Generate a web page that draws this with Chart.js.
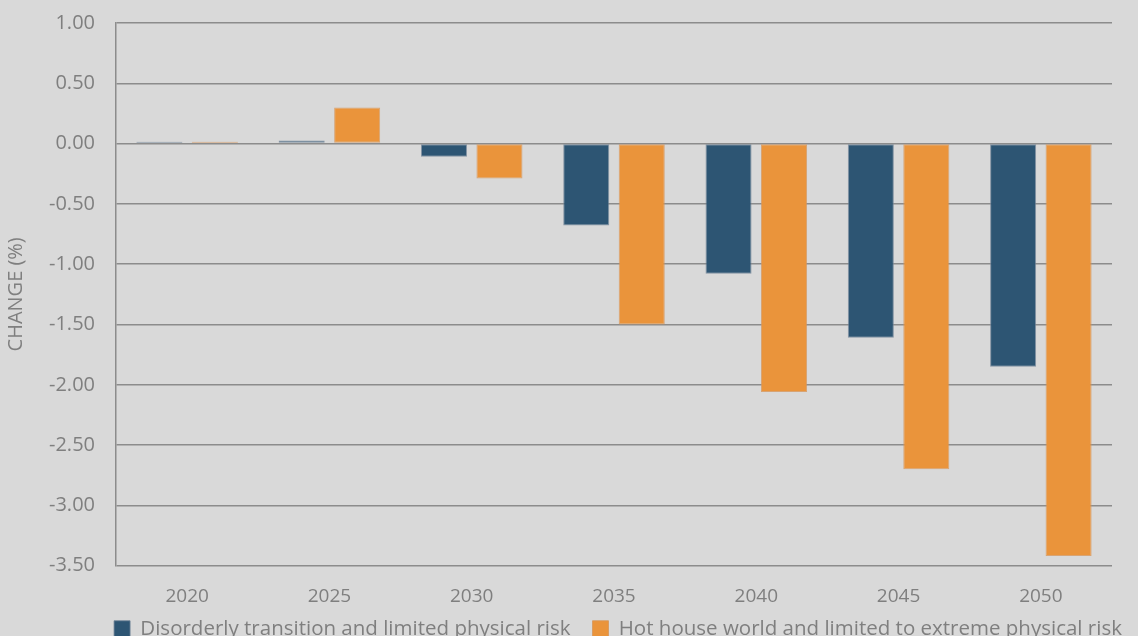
<!DOCTYPE html>
<html><head><meta charset="utf-8">
<script src="https://cdn.jsdelivr.net/npm/chart.js@4/dist/chart.umd.min.js"></script>
<style>html,body{margin:0;padding:0;background:#D9D9D9;overflow:hidden;width:1138px;height:636px;}canvas{display:block;margin-top:-10px;}</style>
</head><body>
<canvas id="c" width="1138" height="681"></canvas>
<script>
const categories = ["2020","2025","2030","2035","2040","2045","2050"];
const disorderly = [0.015, 0.025, -0.11, -0.68, -1.08, -1.61, -1.85];
const hotHouse = [0.015, 0.30, -0.29, -1.50, -2.06, -2.70, -3.42];
const seriesNames = ["Disorderly transition and limited physical risk", "Hot house world and limited to extreme physical risk"];

const LEGEND_SHIFT_Y = 22, LEGEND_SHIFT_X = 60;
const bgPlugin = {id:'bg', beforeDraw(c){const x=c.ctx;x.save();x.fillStyle='#D9D9D9';x.fillRect(0,0,c.width,c.height);x.restore();}};
const legendShift = {id:'legendShift', afterInit(chart){
  const lg = chart.legend; if (!lg || lg._patched) return;
  const orig = lg.draw;
  lg.draw = function(...a){
    this.top -= LEGEND_SHIFT_Y; this.bottom -= LEGEND_SHIFT_Y; this.left += LEGEND_SHIFT_X; this.right += LEGEND_SHIFT_X;
    orig.apply(this, a);
    this.top += LEGEND_SHIFT_Y; this.bottom += LEGEND_SHIFT_Y; this.left -= LEGEND_SHIFT_X; this.right -= LEGEND_SHIFT_X;
  };
  lg._patched = true;
}};
const font = "'Open Sans', sans-serif";
new Chart(document.getElementById('c'), {
  type: 'bar',
  data: {
    labels: categories,
    datasets: [
      {label: seriesNames[0], data: disorderly, backgroundColor: '#2D5573', borderColor: 'rgba(110,130,150,0.8)', borderWidth: 1, borderSkipped: false},
      {label: seriesNames[1], data: hotHouse, backgroundColor: '#EA943B', borderColor: 'rgba(215,150,90,0.8)', borderWidth: 1, borderSkipped: false}
    ]
  },
  plugins: [bgPlugin, legendShift],
  options: {
    responsive: false, animation: false,
    categoryPercentage: 0.78, barPercentage: 0.83,
    layout: {padding: {top: 4, right: 26, left: 4, bottom: 0}},
    plugins: {
      legend: {position: 'bottom', labels: {font: {family: font, size: 20.5}, color: '#7F7F7F', boxWidth: 16, boxHeight: 16, padding: 22}},
      tooltip: {enabled: false}
    },
    scales: {
      x: {
        grid: {display: false},
        border: {display: false},
        ticks: {font: {family: font, size: 19}, color: '#7F7F7F', padding: 11}
      },
      y: {
        min: -3.5, max: 1,
        ticks: {stepSize: 0.5, font: {family: font, size: 20}, color: '#7F7F7F', padding: 21, callback: v => v.toFixed(2)},
        grid: {color: '#8C8C8C', lineWidth: 1.5, drawTicks: false},
        border: {color: '#8C8C8C', width: 1.5},
        title: {display: true, text: 'CHANGE (%)', font: {family: font, size: 20}, color: '#7F7F7F', padding: 0}
      }
    }
  }
});
</script>
</body></html>
